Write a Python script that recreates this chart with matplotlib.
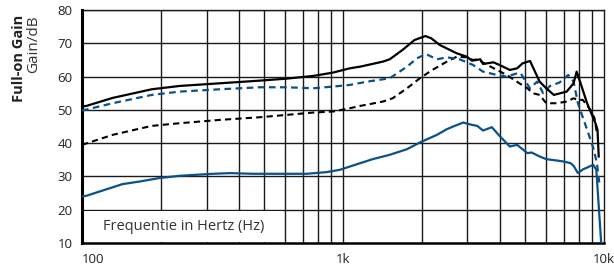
import numpy as np
import matplotlib.pyplot as plt
from matplotlib.patches import Rectangle

plt.rcParams['font.family'] = ['Open Sans', 'DejaVu Sans']

# frequentie (Hz) en gain (dB) per curve
f_black = [100, 104, 131, 185, 237, 338, 481, 609, 768, 914, 1062, 1165, 1420, 1510,
           1690, 1880, 2070, 2180, 2350, 2730, 2980, 3120, 3360, 3440, 3770, 3980,
           4360, 4650, 4880, 5210, 5670, 6010, 6430, 7200, 7650, 7860, 8100, 8620,
           9110, 9280, 9450, 9550]
g_black = [51.0, 51.2, 53.6, 56.2, 57.2, 58.0, 58.8, 59.4, 60.2, 61.2, 62.5, 63.0, 64.5, 65.2,
           68.0, 71.0, 72.2, 71.5, 69.5, 67.0, 66.0, 64.8, 65.2, 63.8, 64.3, 63.5,
           62.0, 62.5, 64.0, 64.7, 58.5, 56.5, 54.5, 55.5, 58.0, 61.5, 58.5, 52.0,
           47.5, 46.0, 44.0, 36.0]

f_black_d = [100, 131, 185, 237, 338, 481, 609, 768, 914, 1062, 1165, 1420, 1550, 1760,
             1970, 2200, 2500, 2730, 2980, 3150, 3300, 3440, 3890, 4240, 4740, 5090,
             5350, 5670, 6010, 6590, 7200, 7650, 7950, 8300, 8880, 9200, 9400]
g_black_d = [39.5, 42.5, 45.2, 46.0, 47.0, 47.8, 48.5, 49.2, 49.5, 50.5, 51.2, 52.5, 53.5, 56.5,
             59.5, 62.0, 64.5, 66.0, 65.8, 65.0, 65.2, 64.2, 62.0, 60.5, 58.0, 56.5,
             55.0, 54.5, 52.0, 52.0, 52.5, 53.5, 53.0, 53.0, 50.0, 47.5, 43.0]

f_blue_d = [100, 131, 185, 237, 338, 481, 609, 768, 914, 1062, 1240, 1510, 1760, 1920,
            2080, 2290, 2500, 2800, 3150, 3440, 3890, 4240, 4650, 4800, 5200, 5550,
            5850, 6210, 6750, 7300, 7650, 7950, 8450, 8800, 9150, 9400, 9600]
g_blue_d = [49.8, 52.0, 54.5, 55.5, 56.2, 56.8, 56.8, 56.5, 57.0, 57.5, 58.5, 59.5, 63.0, 65.5,
            66.8, 65.2, 65.8, 65.2, 63.5, 61.5, 60.5, 60.0, 61.0, 61.0, 56.5, 58.5,
            55.0, 57.2, 58.2, 60.5, 58.5, 52.0, 46.0, 42.0, 38.0, 34.0, 28.0]

f_blue = [100, 104, 117, 143, 167, 197, 237, 318, 369, 452, 574, 726, 866, 973,
          1165, 1300, 1510, 1760, 1970, 2290, 2500, 2680, 2890, 3120, 3270, 3440,
          3720, 3980, 4360, 4650, 5090, 5280, 5670, 6010, 6590, 6990, 7450, 7650,
          7950, 8300, 9100, 9350, 9800]
g_blue = [24.0, 24.2, 25.5, 27.7, 28.5, 29.5, 30.2, 30.8, 31.0, 30.8, 30.8, 30.8, 31.3, 32.0,
          34.0, 35.2, 36.5, 38.2, 40.2, 42.5, 44.2, 45.2, 46.2, 45.5, 45.2, 43.8,
          44.8, 42.2, 39.0, 39.5, 37.0, 37.2, 36.0, 35.2, 34.8, 34.5, 34.0, 33.2,
          31.0, 32.1, 33.5, 32.0, 8.0]

x_ticks = [100, 1000, 10000]
x_labels = ['100', '1k', '10k']
y_ticks = [10, 20, 30, 40, 50, 60, 70, 80]

blue = '#0b5189'

fig = plt.figure(figsize=(6.14, 2.65), dpi=100)
ax = fig.add_axes([0.1336, 0.083, 0.850, 0.879])

ax.set_xscale('log')
ax.set_xlim(100, 10000)
ax.set_ylim(10, 80)

# raster
minors = [m * d for d in (100, 1000) for m in range(2, 10)]
for x in minors + [1000]:
    ax.axvline(x, color='#1a1a1a', lw=1.0, zorder=0.5)
for y in y_ticks[1:]:
    ax.axhline(y, color='#1a1a1a', lw=1.0, zorder=0.5)
ax.axvline(10000, color='#1a1a1a', lw=1.0, zorder=0.5, clip_on=False)
ax.axhline(80, color='#1a1a1a', lw=1.0, zorder=0.5, clip_on=False)

# tekstvak onderaan
ax.add_patch(Rectangle((101, 10.2), 488, 9.5, facecolor='white', edgecolor='none', zorder=1))
ax.text(120, 15, 'Frequentie in Hertz (Hz)', fontsize=10.5, color='#333333',
        va='center', ha='left', zorder=2)

ax.plot(f_blue, g_blue, color=blue, lw=1.6, zorder=3)
ax.plot(f_black_d, g_black_d, color='black', lw=1.5, dashes=(3, 2), zorder=3)
ax.plot(f_blue_d, g_blue_d, color=blue, lw=1.6, dashes=(3, 2), zorder=3)
ax.plot(f_black, g_black, color='black', lw=1.6, zorder=4)

ax.set_xticks(x_ticks)
ax.set_xticklabels(x_labels)
ax.minorticks_off()
ax.set_yticks(y_ticks)
ax.tick_params(length=0, labelsize=9.5, colors='#222222')
ax.tick_params(axis='x', pad=7)
ax.tick_params(axis='y', pad=7)
ax.get_xticklabels()[0].set_horizontalalignment('left')

for s in ['top', 'right']:
    ax.spines[s].set_visible(False)
ax.spines['left'].set_linewidth(2.2)
ax.spines['bottom'].set_linewidth(1.8)

fig.text(0.031, 0.943, 'Full-on Gain', rotation=90, fontsize=10.5, fontweight='bold',
         ha='center', va='top', color='#222222')
fig.text(0.055, 0.943, 'Gain/dB', rotation=90, fontsize=11,
         ha='center', va='top', color='#333333')

fig.savefig('out.png', dpi=100)
